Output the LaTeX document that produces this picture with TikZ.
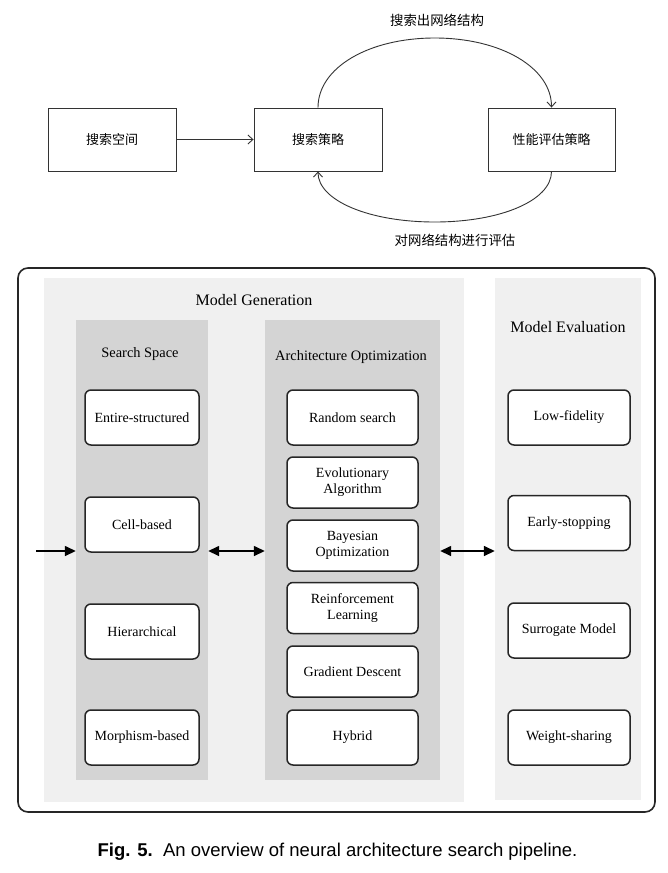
\documentclass[tikz,border=0pt]{standalone}
\usepackage{fontspec}
\setmainfont{Liberation Serif}
\newfontfamily\cjk{Noto Sans CJK SC}
\newfontfamily\capfont{Liberation Sans}
\usetikzlibrary{arrows.meta}
\definecolor{outerpanel}{HTML}{F0F0F0}
\definecolor{innerpanel}{HTML}{D4D4D4}
\definecolor{linegray}{HTML}{333333}
\begin{document}
\begin{tikzpicture}[x=1pt,y=-1pt,
 topbox/.style={draw=linegray, line width=0.9pt, minimum width=128pt, minimum height=63pt, inner sep=0pt, font=\cjk\fontsize{13}{15}\selectfont},
 cnlabel/.style={font=\cjk\fontsize{13.4}{15}\selectfont, inner sep=0pt},
 thinarrow/.style={draw=linegray, line width=0.9pt, -{Straight Barb[length=5pt,width=9pt]}},
 bigpanel/.style={fill=outerpanel, inner sep=0pt},
 colpanel/.style={fill=innerpanel, inner sep=0pt},
 itembox/.style={draw=black!85, fill=white, line width=1.5pt, rounded corners=6pt, inner sep=0pt, align=center, font=\fontsize{14}{16}\selectfont},
 paneltitle/.style={inner sep=0pt, font=\fontsize{16}{18}\selectfont},
 coltitle/.style={inner sep=0pt, font=\fontsize{14.4}{16}\selectfont},
 flowarrow/.style={line width=1.5pt, -{Triangle[length=11pt,width=10pt]}},
 dflowarrow/.style={line width=1.5pt, {Triangle[length=11pt,width=10pt]}-{Triangle[length=11pt,width=10pt]}},
]
\useasboundingbox (0,0) rectangle (668,873);
\fill[white] (0,0) rectangle (668,873);

% top flow
\node[topbox] (space) at (112,139.5) {搜索空间};
\node[topbox] (strategy) at (318,139.5) {搜索策略};
\node[topbox, minimum width=127pt] (evalbox) at (551.5,139.5) {性能评估策略};
\draw[thinarrow] (space) -- (strategy);
\coordinate (uptop) at (434.75,38);
\draw[thinarrow] (strategy.north) .. controls +(0,-40) and +(-66,0) .. (uptop) .. controls +(66,0) and +(0,-40) .. (evalbox.north);
\coordinate (lowbot) at (434.75,222);
\draw[thinarrow] (evalbox.south) .. controls +(0,29) and +(66,0) .. (lowbot) .. controls +(-66,0) and +(0,29) .. (strategy.south);
\node[cnlabel] (outlabel) at (437,20) {搜索出网络结构};
\node[cnlabel] (evallabel) at (455,240) {对网络结构进行评估};

% panels
\node[bigpanel, minimum width=420pt, minimum height=524pt] (gen) at (254,540) {};
\node[bigpanel, minimum width=146pt, minimum height=522pt] (evalpanel) at (568,539) {};
\node[colpanel, minimum width=132pt, minimum height=460pt] (sspanel) at (142,550) {};
\node[colpanel, minimum width=175pt, minimum height=460pt] (aopanel) at (352.5,550) {};
\draw[line width=1.6pt, draw=black!85, rounded corners=10pt] (18,268) rectangle (655,812);

% titles
\node[paneltitle] (gentitle) at (254,300) {Model Generation};
\node[paneltitle] (evaltitle) at (568,327) {Model Evaluation};
\node[coltitle] (sstitle) at (140,354) {Search Space};
\node[coltitle] (aotitle) at (351,357) {Architecture Optimization};

% search space items
\node[itembox, minimum width=114pt, minimum height=55pt] (ss1) at (142,417.5) {Entire-structured};
\node[itembox, minimum width=114pt, minimum height=55pt] (ss2) at (142,524.5) {Cell-based};
\node[itembox, minimum width=114pt, minimum height=55pt] (ss3) at (142,631.5) {Hierarchical};
\node[itembox, minimum width=114pt, minimum height=55pt] (ss4) at (142,737.5) {Morphism-based};

% architecture optimization items
\node[itembox, minimum width=131pt, minimum height=55pt] (ao1) at (352.5,417.5) {Random search};
\node[itembox, minimum width=131pt, minimum height=51pt] (ao2) at (352.5,482.5) {Evolutionary\\Algorithm};
\node[itembox, minimum width=131pt, minimum height=51pt] (ao3) at (352.5,545.5) {Bayesian\\Optimization};
\node[itembox, minimum width=131pt, minimum height=51pt] (ao4) at (352.5,608) {Reinforcement\\Learning};
\node[itembox, minimum width=131pt, minimum height=51pt] (ao5) at (352.5,671.5) {Gradient Descent};
\node[itembox, minimum width=131pt, minimum height=55pt] (ao6) at (352.5,737.5) {Hybrid};

% evaluation items
\node[itembox, minimum width=122pt, minimum height=55pt] (ev1) at (569,417.5) {Low-fidelity};
\node[itembox, minimum width=122pt, minimum height=55pt] (ev2) at (569,523) {Early-stopping};
\node[itembox, minimum width=122pt, minimum height=55pt] (ev3) at (569,630.5) {Surrogate Model};
\node[itembox, minimum width=122pt, minimum height=55pt] (ev4) at (569,737.5) {Weight-sharing};

% arrows
\coordinate (inarrow) at (36,551);
\draw[flowarrow] (inarrow) -- (sspanel.west |- inarrow);
\draw[dflowarrow] (sspanel.east |- inarrow) -- (aopanel.west |- inarrow);
\draw[dflowarrow] (aopanel.east |- inarrow) -- (evalpanel.west |- inarrow);

% caption
\node[font=\capfont\fontsize{18.5}{20}\selectfont, inner sep=0pt] (caption) at (337.5,852) {\textbf{Fig. 5.}\ \ An overview of neural architecture search pipeline.};
\end{tikzpicture}
\end{document}
